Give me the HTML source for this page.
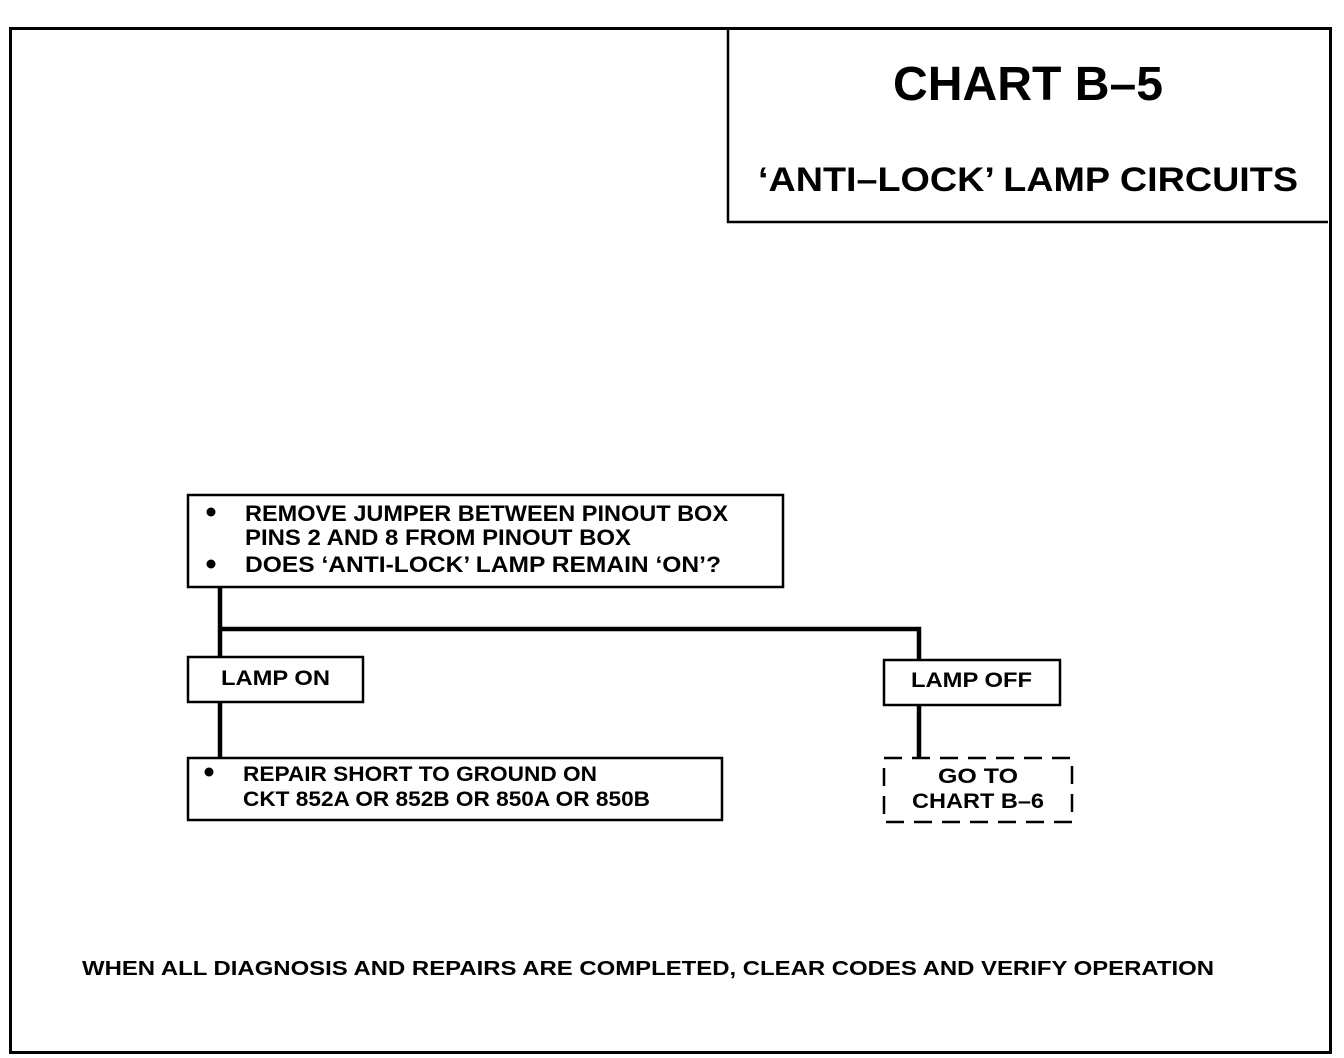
<!DOCTYPE html>
<html><head><meta charset="utf-8"><style>
html,body{margin:0;padding:0;background:#fff;width:1344px;height:1058px;overflow:hidden}
svg{display:block}
text{font-family:"Liberation Sans",Arial,sans-serif;font-weight:bold;fill:#000}
</style></head><body>
<svg width="1344" height="1058" viewBox="0 0 1344 1058" xmlns="http://www.w3.org/2000/svg">
<rect x="10.5" y="28.5" width="1320" height="1024" fill="none" stroke="#000" stroke-width="3"/>
<polyline points="728,30 728,222 1328,222" fill="none" stroke="#000" stroke-width="2.5"/>
<text x="1028" y="100" font-size="48" text-anchor="middle" textLength="270" lengthAdjust="spacingAndGlyphs">CHART B–5</text>
<text x="1028" y="191" font-size="34" text-anchor="middle" textLength="540" lengthAdjust="spacingAndGlyphs">‘ANTI–LOCK’ LAMP CIRCUITS</text>

<rect x="188" y="495" width="595" height="92" fill="none" stroke="#000" stroke-width="2.5"/>
<circle cx="211" cy="512" r="4.5"/>
<circle cx="211" cy="564" r="4.5"/>
<text x="245" y="521" font-size="22" textLength="483" lengthAdjust="spacingAndGlyphs">REMOVE JUMPER BETWEEN PINOUT BOX</text>
<text x="245" y="545" font-size="22" textLength="386" lengthAdjust="spacingAndGlyphs">PINS 2 AND 8 FROM PINOUT BOX</text>
<text x="245" y="572" font-size="22" textLength="476" lengthAdjust="spacingAndGlyphs">DOES ‘ANTI-LOCK’ LAMP REMAIN ‘ON’?</text>

<line x1="220" y1="587" x2="220" y2="656" stroke="#000" stroke-width="4.5"/>
<polyline points="220,629 919,629 919,659" fill="none" stroke="#000" stroke-width="4.5"/>

<rect x="188" y="657" width="175" height="45" fill="none" stroke="#000" stroke-width="2.5"/>
<text x="221" y="685" font-size="21" textLength="109" lengthAdjust="spacingAndGlyphs">LAMP ON</text>
<line x1="220" y1="702" x2="220" y2="758" stroke="#000" stroke-width="4.5"/>

<rect x="188" y="758" width="534" height="62" fill="none" stroke="#000" stroke-width="2.5"/>
<circle cx="209" cy="772" r="4.5"/>
<text x="243" y="781" font-size="21" textLength="354" lengthAdjust="spacingAndGlyphs">REPAIR SHORT TO GROUND ON</text>
<text x="243" y="806" font-size="21" textLength="407" lengthAdjust="spacingAndGlyphs">CKT 852A OR 852B OR 850A OR 850B</text>

<rect x="884" y="660" width="176" height="45" fill="none" stroke="#000" stroke-width="2.5"/>
<text x="911" y="687" font-size="21" textLength="121" lengthAdjust="spacingAndGlyphs">LAMP OFF</text>
<line x1="919" y1="705" x2="919" y2="758" stroke="#000" stroke-width="4.5"/>

<rect x="884" y="758" width="188" height="64" fill="none" stroke="#000" stroke-width="2.5" stroke-dasharray="18,10"/>
<text x="978" y="783" font-size="21" text-anchor="middle" textLength="80" lengthAdjust="spacingAndGlyphs">GO TO</text>
<text x="978" y="808" font-size="21" text-anchor="middle" textLength="132" lengthAdjust="spacingAndGlyphs">CHART B–6</text>

<text x="82" y="975" font-size="20" textLength="1132" lengthAdjust="spacingAndGlyphs">WHEN ALL DIAGNOSIS AND REPAIRS ARE COMPLETED, CLEAR CODES AND VERIFY OPERATION</text>
</svg>
</body></html>
